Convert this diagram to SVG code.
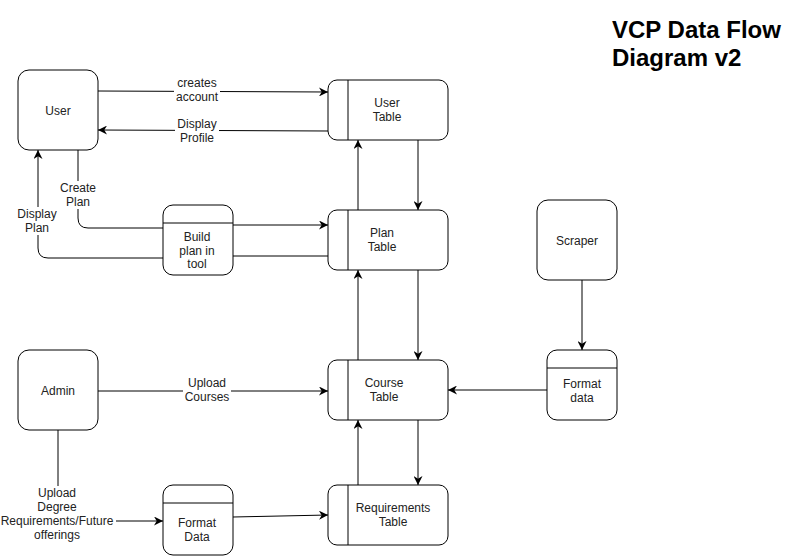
<svg xmlns="http://www.w3.org/2000/svg" width="798" height="556" viewBox="0 0 798 556">
<defs>
<marker id="arr" viewBox="0 0 10 10" refX="10" refY="5" markerWidth="9" markerHeight="9" markerUnits="userSpaceOnUse" orient="auto">
<path d="M0,0 L10,5 L0,10 L3,5 Z" fill="#000"/>
</marker>
</defs>
<style>
.n{fill:#fff;stroke:#000;stroke-width:1}
.l{stroke:#000;stroke-width:1;fill:none}
.e{stroke:#000;stroke-width:1;fill:none}
.a{marker-end:url(#arr)}
text{font-family:"Liberation Sans",Arial,sans-serif;font-size:12px;fill:#222;text-anchor:middle}
.bg{fill:#fff}
.t{font-size:24px;font-weight:bold;fill:#000;text-anchor:start}
</style>
<rect width="798" height="556" fill="#fff"/>
<g id="connectors">
<path class="e a" d="M98,91 L328,92"/>
<path class="e a" d="M328,131 L98,130"/>
<path class="e" d="M78,150 L78,218 Q78,228 88,228 L163,228"/>
<path class="e a" d="M163,258 L48,258 Q38,258 38,248 L38,150"/>
<path class="e a" d="M233,225 L328,225"/>
<path class="e" d="M328,256 L233,256"/>
<path class="e a" d="M358,210 L358,140"/>
<path class="e a" d="M418,140 L418,210"/>
<path class="e a" d="M358,360 L358,270"/>
<path class="e a" d="M418,270 L418,360"/>
<path class="e a" d="M358,485 L358,420"/>
<path class="e a" d="M418,420 L418,485"/>
<path class="e a" d="M98,391 L328,391"/>
<path class="e" d="M58,430 L58,490"/>
<path class="e a" d="M112,521 L163,521"/>
<path class="e a" d="M233,517 L328,515"/>
<path class="e a" d="M582,280 L582,350"/>
<path class="e a" d="M547,390 L448,390"/>
<rect class="bg" x="174" y="76" width="46" height="28"/>
<text x="197" y="87">creates</text>
<text x="197" y="101">account</text>
<rect class="bg" x="175" y="117" width="44" height="28"/>
<text x="197" y="128">Display</text>
<text x="197" y="142">Profile</text>
<rect class="bg" x="58" y="181" width="40" height="28"/>
<text x="78" y="192">Create</text>
<text x="78" y="206">Plan</text>
<rect class="bg" x="16" y="207" width="44" height="28"/>
<text x="37" y="218">Display</text>
<text x="37" y="232">Plan</text>
<rect class="bg" x="183" y="376" width="48" height="28"/>
<text x="207" y="387">Upload</text>
<text x="207" y="401">Courses</text>
<rect class="bg" x="0" y="486" width="116" height="56"/>
<text x="57" y="497">Upload</text>
<text x="57" y="511">Degree</text>
<text x="57" y="525">Requirements/Future</text>
<text x="57" y="539">offerings</text>
</g>
<g id="user">
<rect class="n" x="18" y="70" width="80" height="80" rx="11"/>
<text x="58" y="115">User</text>
</g>
<g id="user-table">
<rect class="n" x="328" y="80" width="120" height="60" rx="9"/>
<line class="l" x1="348" y1="80" x2="348" y2="140"/>
<text x="387" y="107">User</text>
<text x="387" y="121">Table</text>
</g>
<g id="build-plan">
<rect class="n" x="163" y="205" width="70" height="70" rx="10"/>
<line class="l" x1="163" y1="223" x2="233" y2="223"/>
<text x="197" y="241">Build</text>
<text x="197" y="255">plan in</text>
<text x="197" y="268">tool</text>
</g>
<g id="plan-table">
<rect class="n" x="328" y="210" width="120" height="60" rx="9"/>
<line class="l" x1="348" y1="210" x2="348" y2="270"/>
<text x="382" y="237">Plan</text>
<text x="382" y="251">Table</text>
</g>
<g id="scraper">
<rect class="n" x="537" y="200" width="80" height="80" rx="11"/>
<text x="577" y="245">Scraper</text>
</g>
<g id="format-data-right">
<rect class="n" x="547" y="350" width="70" height="70" rx="10"/>
<line class="l" x1="547" y1="368" x2="617" y2="368"/>
<text x="582" y="388">Format</text>
<text x="582" y="402">data</text>
</g>
<g id="admin">
<rect class="n" x="18" y="350" width="80" height="80" rx="11"/>
<text x="58" y="395">Admin</text>
</g>
<g id="course-table">
<rect class="n" x="328" y="360" width="120" height="60" rx="9"/>
<line class="l" x1="348" y1="360" x2="348" y2="420"/>
<text x="384" y="387">Course</text>
<text x="384" y="401">Table</text>
</g>
<g id="format-data-left">
<rect class="n" x="163" y="485" width="70" height="70" rx="10"/>
<line class="l" x1="163" y1="503" x2="233" y2="503"/>
<text x="197" y="527">Format</text>
<text x="197" y="541">Data</text>
</g>
<g id="requirements-table">
<rect class="n" x="328" y="485" width="120" height="60" rx="9"/>
<line class="l" x1="348" y1="485" x2="348" y2="545"/>
<text x="393" y="512">Requirements</text>
<text x="393" y="526">Table</text>
</g>
<g id="title">
<text class="t" x="612" y="38">VCP Data Flow</text>
<text class="t" x="612" y="66">Diagram v2</text>
</g>
</svg>
